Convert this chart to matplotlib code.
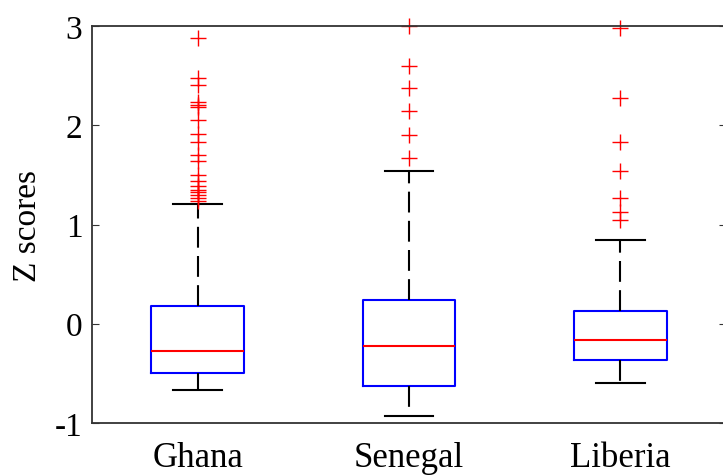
import matplotlib.pyplot as plt

plt.rcParams['font.family'] = ['Liberation Serif', 'DejaVu Serif']
plt.rcParams['axes.unicode_minus'] = False

countries = ['Ghana', 'Senegal', 'Liberia']
medians = [-0.27, -0.22, -0.16]
q1 = [-0.50, -0.63, -0.37]
q3 = [0.18, 0.24, 0.13]
whisk_lo = [-0.67, -0.93, -0.60]
whisk_hi = [1.21, 1.54, 0.84]

ghana_out = [2.88, 2.48, 2.41, 2.23, 2.20, 2.18, 2.05, 1.91, 1.83, 1.70,
             1.64, 1.50, 1.44, 1.39, 1.35, 1.33, 1.30, 1.27, 1.24]
senegal_out = [3.00, 2.60, 2.38, 2.14, 1.90, 1.67]
liberia_out = [2.98, 2.27, 1.83, 1.54, 1.27, 1.13, 1.05]
outliers = [ghana_out, senegal_out, liberia_out]

stats = []
for i, name in enumerate(countries):
    stats.append(dict(label=name, med=medians[i], q1=q1[i], q3=q3[i],
                      whislo=whisk_lo[i], whishi=whisk_hi[i],
                      fliers=outliers[i]))

fig = plt.figure(figsize=(7.23, 4.77), dpi=100)
ax = fig.add_axes([92 / 723, 53 / 477, 634 / 723, 397 / 477])

bp = ax.bxp(stats, positions=[1, 2, 3], widths=0.44, capwidths=0.23,
            boxprops=dict(color='blue', lw=1.5),
            medianprops=dict(color='red', lw=1.5),
            whiskerprops=dict(color='black', lw=1.5, linestyle=(0, (10, 4))),
            capprops=dict(color='black', lw=1.5),
            flierprops=dict(marker='+', markeredgecolor='red',
                            markersize=11, markeredgewidth=1.0,
                            linestyle='none'))
for f in bp['fliers']:
    f.set_clip_on(False)

ax.set_xlim(0.5, 3.5)
ax.set_ylim(-1, 3)
ax.set_yticks([-1, 0, 1, 2, 3])
ax.set_yticklabels(['-1', '0', '1', '2', '3'])
ax.set_ylabel('Z scores', fontsize=24, labelpad=8)

ax.tick_params(axis='y', direction='in', length=5, right=True,
               labelsize=24, pad=7, color='#333333')
ax.tick_params(axis='x', length=0, labelsize=25, pad=13)
for s in ax.spines.values():
    s.set_color('#333333')
    s.set_linewidth(1.3)

fig.savefig('out.png', dpi=100)
